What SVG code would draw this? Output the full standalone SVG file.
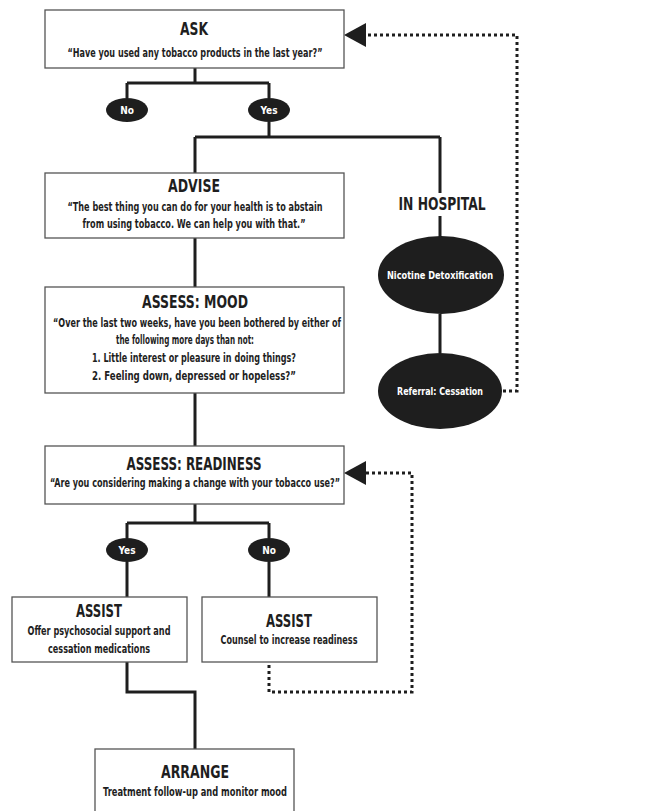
<svg xmlns="http://www.w3.org/2000/svg" width="654" height="811" viewBox="0 0 654 811">
<style>
.box{fill:#fff;stroke:#555;stroke-width:1.3}
.ell{fill:#1e1e1e}
.t{font-family:"Liberation Sans Narrow","DejaVu Sans Condensed","Liberation Sans",sans-serif;font-weight:bold;fill:#1e1e1e;text-anchor:middle}
.h{font-size:17px}
.s{font-size:11.5px}
.w{fill:#fff;font-size:10px}
.ln{fill:none;stroke:#1e1e1e;stroke-width:3}
.dt{fill:none;stroke:#1e1e1e;stroke-width:3;stroke-dasharray:3 3}
</style>
<g id="connectors">
<path class="ln" d="M195 68V83M127 83H269M127 83V98M269 83V98"/>
<path class="ln" d="M269 122V137M195 137H440M195 137V173"/>
<path class="ln" d="M440 137V193M440 216V237M440 314V353"/>
<path class="ln" d="M195 238V287M195 393V446"/>
<path class="ln" d="M195 504V523M127 523H269M127 523V538M269 523V538M127 562V597M269 562V597"/>
<path class="ln" d="M127 662V692H195V749"/>
<path class="dt" d="M503 391H517V35H366"/>
<polygon points="344,35 366,23 366,47" fill="#1e1e1e"/>
<path class="dt" d="M269 665V692H412V473H366"/>
<polygon points="344,473 366,461 366,485" fill="#1e1e1e"/>
</g>
<g id="ask">
<rect class="box" x="45" y="10" width="299" height="58"/>
<text class="t h" x="194" y="35" textLength="28" lengthAdjust="spacingAndGlyphs">ASK</text>
<text class="t s" x="195" y="57" textLength="255" lengthAdjust="spacingAndGlyphs">“Have you used any tobacco products in the last year?”</text>
</g>
<g id="no1"><ellipse class="ell" cx="127" cy="110" rx="21" ry="12"/><text class="t w" x="127" y="114">No</text></g>
<g id="yes1"><ellipse class="ell" cx="269" cy="110" rx="21" ry="12"/><text class="t w" x="269" y="114">Yes</text></g>
<g id="advise">
<rect class="box" x="45" y="173" width="299" height="65"/>
<text class="t h" x="194" y="192" textLength="52" lengthAdjust="spacingAndGlyphs">ADVISE</text>
<text class="t s" x="195" y="211" textLength="255" lengthAdjust="spacingAndGlyphs">“The best thing you can do for your health is to abstain</text>
<text class="t s" x="194" y="228" textLength="223" lengthAdjust="spacingAndGlyphs">from using tobacco. We can help you with that.”</text>
</g>
<g id="inhospital"><text class="t" x="442" y="210" font-size="18" textLength="87" lengthAdjust="spacingAndGlyphs">IN HOSPITAL</text></g>
<g id="nicotine"><ellipse class="ell" cx="441" cy="275" rx="63" ry="39"/><text class="t w" x="440" y="279" textLength="106" lengthAdjust="spacingAndGlyphs">Nicotine Detoxification</text></g>
<g id="referral"><ellipse class="ell" cx="440" cy="391" rx="62" ry="38"/><text class="t w" x="440" y="395" textLength="86" lengthAdjust="spacingAndGlyphs">Referral: Cessation</text></g>
<g id="mood">
<rect class="box" x="45" y="287" width="299" height="106"/>
<text class="t h" x="195" y="308" textLength="106" lengthAdjust="spacingAndGlyphs">ASSESS: MOOD</text>
<text class="t s" x="197" y="327" textLength="288" lengthAdjust="spacingAndGlyphs">“Over the last two weeks, have you been bothered by either of</text>
<text class="t s" x="185" y="344" textLength="138" lengthAdjust="spacingAndGlyphs">the following more days than not:</text>
<text class="t s" x="194" y="362" textLength="204" lengthAdjust="spacingAndGlyphs">1. Little interest or pleasure in doing things?</text>
<text class="t s" x="194" y="380" textLength="204" lengthAdjust="spacingAndGlyphs">2. Feeling down, depressed or hopeless?”</text>
</g>
<g id="readiness">
<rect class="box" x="45" y="446" width="299" height="58"/>
<text class="t h" x="194" y="470" textLength="135" lengthAdjust="spacingAndGlyphs">ASSESS: READINESS</text>
<text class="t s" x="195" y="487" textLength="290" lengthAdjust="spacingAndGlyphs">“Are you considering making a change with your tobacco use?”</text>
</g>
<g id="yes2"><ellipse class="ell" cx="127" cy="550" rx="21" ry="12"/><text class="t w" x="127" y="554">Yes</text></g>
<g id="no2"><ellipse class="ell" cx="269" cy="550" rx="21" ry="12"/><text class="t w" x="269" y="554">No</text></g>
<g id="assist-yes">
<rect class="box" x="12" y="597" width="175" height="65"/>
<text class="t h" x="99" y="617" textLength="46" lengthAdjust="spacingAndGlyphs">ASSIST</text>
<text class="t s" x="99" y="635" textLength="143" lengthAdjust="spacingAndGlyphs">Offer psychosocial support and</text>
<text class="t s" x="99" y="653" textLength="102" lengthAdjust="spacingAndGlyphs">cessation medications</text>
</g>
<g id="assist-no">
<rect class="box" x="202" y="597" width="175" height="65"/>
<text class="t h" x="289" y="627" textLength="46" lengthAdjust="spacingAndGlyphs">ASSIST</text>
<text class="t s" x="289" y="644" textLength="137" lengthAdjust="spacingAndGlyphs">Counsel to increase readiness</text>
</g>
<g id="arrange">
<rect class="box" x="95" y="749" width="199" height="80"/>
<text class="t h" x="195" y="778" textLength="68" lengthAdjust="spacingAndGlyphs">ARRANGE</text>
<text class="t s" x="195" y="796" textLength="184" lengthAdjust="spacingAndGlyphs">Treatment follow-up and monitor mood</text>
</g>
</svg>
